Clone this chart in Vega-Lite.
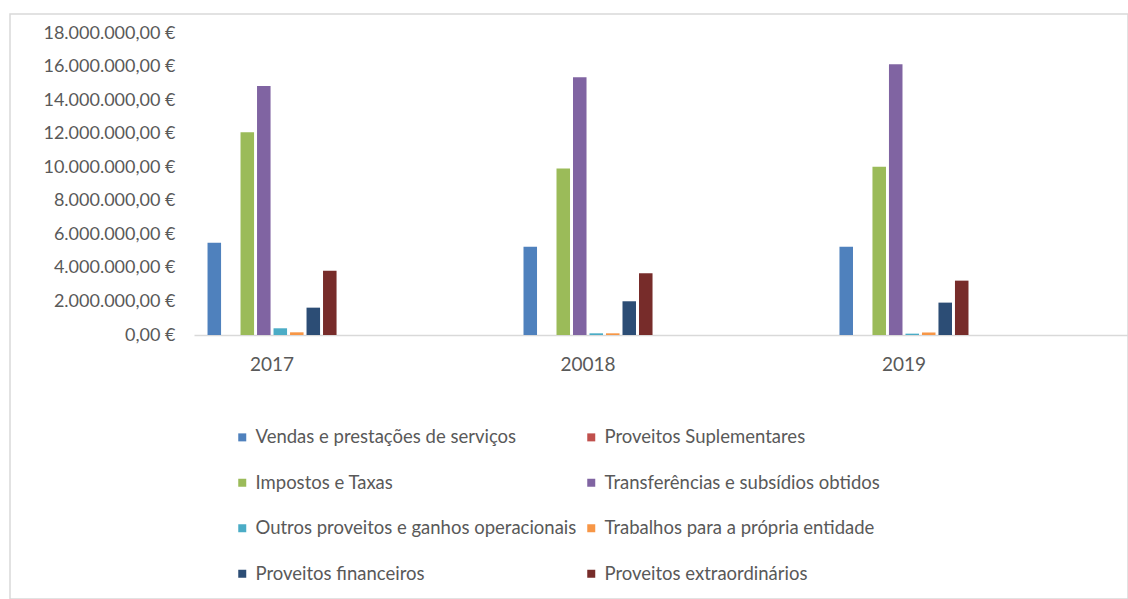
{
  "$schema": "https://vega.github.io/schema/vega-lite/v6.json",
  "width": 1118,
  "height": 585,
  "autosize": {"type": "none"},
  "padding": {"left": 10, "top": 14, "right": 0, "bottom": 0},
  "background": "white",
  "config": {
    "locale": {"number": {"decimal": ",", "thousands": ".", "grouping": [3], "currency": ["", " €"]}},
    "view": {"stroke": "#D9D9D9", "strokeWidth": 1.5},
    "font": "Lato"
  },
  "data": {
    "values": [
      {"ano": "2017", "rubrica": "Vendas e prestações de serviços", "valor": 5500000},
      {"ano": "2017", "rubrica": "Proveitos Suplementares", "valor": 0},
      {"ano": "2017", "rubrica": "Impostos e Taxas", "valor": 12080000},
      {"ano": "2017", "rubrica": "Transferências e subsídios obtidos", "valor": 14840000},
      {"ano": "2017", "rubrica": "Outros proveitos e ganhos operacionais", "valor": 400000},
      {"ano": "2017", "rubrica": "Trabalhos para a própria entidade", "valor": 160000},
      {"ano": "2017", "rubrica": "Proveitos financeiros", "valor": 1630000},
      {"ano": "2017", "rubrica": "Proveitos extraordinários", "valor": 3830000},
      {"ano": "20018", "rubrica": "Vendas e prestações de serviços", "valor": 5260000},
      {"ano": "20018", "rubrica": "Proveitos Suplementares", "valor": 0},
      {"ano": "20018", "rubrica": "Impostos e Taxas", "valor": 9930000},
      {"ano": "20018", "rubrica": "Transferências e subsídios obtidos", "valor": 15360000},
      {"ano": "20018", "rubrica": "Outros proveitos e ganhos operacionais", "valor": 100000},
      {"ano": "20018", "rubrica": "Trabalhos para a própria entidade", "valor": 100000},
      {"ano": "20018", "rubrica": "Proveitos financeiros", "valor": 2010000},
      {"ano": "20018", "rubrica": "Proveitos extraordinários", "valor": 3680000},
      {"ano": "2019", "rubrica": "Vendas e prestações de serviços", "valor": 5260000},
      {"ano": "2019", "rubrica": "Proveitos Suplementares", "valor": 0},
      {"ano": "2019", "rubrica": "Impostos e Taxas", "valor": 10030000},
      {"ano": "2019", "rubrica": "Transferências e subsídios obtidos", "valor": 16130000},
      {"ano": "2019", "rubrica": "Outros proveitos e ganhos operacionais", "valor": 80000},
      {"ano": "2019", "rubrica": "Trabalhos para a própria entidade", "valor": 150000},
      {"ano": "2019", "rubrica": "Proveitos financeiros", "valor": 1930000},
      {"ano": "2019", "rubrica": "Proveitos extraordinários", "valor": 3240000}
    ]
  },
  "mark": {"type": "bar"},
  "encoding": {
    "x": {
      "field": "ano",
      "type": "nominal",
      "sort": ["2017", "20018", "2019"],
      "scale": {"range": [184, 1118], "paddingInner": 0.506, "paddingOuter": 0.231, "align": 0},
      "axis": {
        "title": null,
        "orient": "bottom",
        "offset": -264,
        "labelAngle": 0,
        "ticks": false,
        "tickSize": 0,
        "labelPadding": 20,
        "domainColor": "#D9D9D9",
        "domainWidth": 1.5,
        "labelFont": "Lato",
        "labelFontSize": 19,
        "labelColor": "#595959"
      }
    },
    "xOffset": {
      "field": "rubrica",
      "type": "nominal",
      "sort": [
        "Vendas e prestações de serviços",
        "Proveitos Suplementares",
        "Impostos e Taxas",
        "Transferências e subsídios obtidos",
        "Outros proveitos e ganhos operacionais",
        "Trabalhos para a própria entidade",
        "Proveitos financeiros",
        "Proveitos extraordinários"
      ],
      "scale": {"paddingInner": 0.18, "paddingOuter": 0.82}
    },
    "y": {
      "field": "valor",
      "type": "quantitative",
      "scale": {"domain": [0, 18000000], "range": [321, 19], "nice": false},
      "axis": {
        "title": null,
        "values": [0, 2000000, 4000000, 6000000, 8000000, 10000000, 12000000, 14000000, 16000000, 18000000],
        "format": "$,.2f",
        "domain": false,
        "ticks": false,
        "tickSize": 0,
        "grid": false,
        "offset": -184,
        "labelPadding": 19,
        "labelFont": "Lato",
        "labelFontSize": 18,
        "labelColor": "#595959"
      }
    },
    "color": {
      "field": "rubrica",
      "type": "nominal",
      "sort": [
        "Vendas e prestações de serviços",
        "Impostos e Taxas",
        "Outros proveitos e ganhos operacionais",
        "Proveitos financeiros",
        "Proveitos Suplementares",
        "Transferências e subsídios obtidos",
        "Trabalhos para a própria entidade",
        "Proveitos extraordinários"
      ],
      "scale": {
        "range": ["#4F81BD", "#9BBB59", "#4BACC6", "#2C4D75", "#C0504D", "#8064A2", "#F79646", "#772C2A"]
      },
      "legend": {
        "title": null,
        "orient": "none",
        "legendX": 223,
        "legendY": 414,
        "columns": 2,
        "padding": 0,
        "symbolType": "square",
        "symbolSize": 64,
        "symbolStrokeWidth": 0,
        "labelFont": "Lato",
        "labelFontSize": 18.5,
        "labelColor": "#595959",
        "labelLimit": 500,
        "labelOffset": 4,
        "rowPadding": 26.5,
        "columnPadding": 5
      }
    }
  }
}
